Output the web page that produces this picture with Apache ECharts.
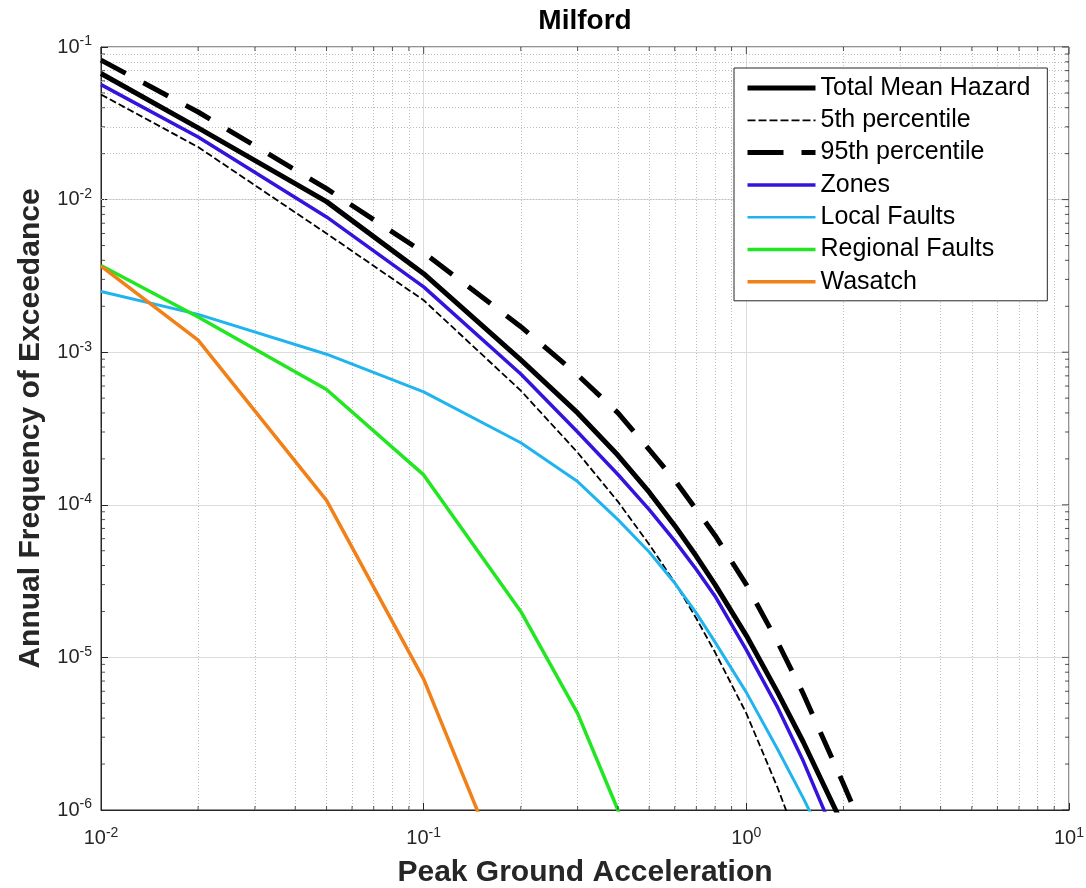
<!DOCTYPE html>
<html>
<head>
<meta charset="utf-8">
<title>Milford</title>
<script src="https://cdn.jsdelivr.net/npm/echarts@6/dist/echarts.min.js"></script>
<style>
    html, body { margin: 0; padding: 0; background: #fff; }
    #chart { width: 1086px; height: 888px; }
</style>
</head>
<body>
<div id="chart"></div>
<script>
// peak ground acceleration levels (g)
var pga = [0.01, 0.02, 0.05, 0.1, 0.2, 0.3, 0.4, 0.5, 0.6, 0.7, 0.8, 1.0, 1.25, 1.5, 2.0, 3.0];

// annual frequency of exceedance
var totalMean = [6.7e-2, 2.95e-2, 9.7e-3, 3.27e-3, 8.9e-4, 4.0e-4, 2.11e-4, 1.21e-4, 7.3e-5, 4.6e-5, 3.0e-5, 1.39e-5, 5.9e-6, 2.8e-6, 7.8e-7, null];
var pct5 = [4.88e-2, 2.21e-2, 6.0e-3, 2.19e-3, 5.6e-4, 2.2e-4, 1.05e-4, 5.5e-5, 3.1e-5, 1.8e-5, 1.08e-5, 4.3e-6, 1.4e-6, 5e-7, null, null];
var pct95 = [8.2e-2, 3.75e-2, 1.18e-2, 4.5e-3, 1.47e-3, 7.1e-4, 4.0e-4, 2.3e-4, 1.45e-4, 9.3e-5, 6.3e-5, 3.0e-5, 1.26e-5, 5.8e-6, 1.48e-6, 2e-7];
var zones = [5.67e-2, 2.57e-2, 7.7e-3, 2.68e-3, 7.2e-4, 3.0e-4, 1.58e-4, 9.3e-5, 5.8e-5, 3.77e-5, 2.52e-5, 1.12e-5, 4.7e-6, 2.1e-6, 5e-7, null];
var localFaults = [2.5e-3, 1.77e-3, 9.7e-4, 5.5e-4, 2.55e-4, 1.42e-4, 8.0e-5, 4.9e-5, 3.07e-5, 1.95e-5, 1.26e-5, 5.9e-6, 2.5e-6, 1.2e-6, 3.5e-7, null];
var regionalFaults = [3.7e-3, 1.7e-3, 5.7e-4, 1.57e-4, 2.0e-5, 4.3e-6, 1.0e-6, 2e-7, null, null, null, null, null, null, null, null];
var wasatch = [3.66e-3, 1.2e-3, 1.07e-4, 7.2e-6, 2e-7, null, null, null, null, null, null, null, null, null, null, null];

// axis ticks
var xMajor = [0.01, 0.1, 1, 10];
var yMajor = [1e-6, 1e-5, 1e-4, 1e-3, 1e-2, 1e-1];

var xMin = 0.01, xMax = 10, yMin = 1e-6, yMax = 0.1;
var axisColor = '#262626';

function minorsOf(majors) {
    var out = [];
    for (var i = 0; i < majors.length - 1; i++) {
        for (var k = 2; k <= 9; k++) out.push(+(k * majors[i]).toPrecision(3));
    }
    return out;
}
var xMinor = minorsOf(xMajor);
var yMinor = minorsOf(yMajor);

function pairs(ys) {
    return pga.map(function (x, i) { return [x, ys[i]]; });
}

function expLabel(v) {
    return '10{sup|' + Math.round(Math.log10(v)) + '}';
}

var labelRich = {
    sup: { fontSize: 14, padding: [0, 0, 11, 0], color: axisColor, fontFamily: 'Liberation Sans' }
};

function curve(name, ys, color, width, type) {
    return {
        name: name,
        type: 'line',
        data: pairs(ys),
        symbol: 'none',
        showSymbol: false,
        clip: true,
        z: 3,
        lineStyle: { color: color, width: width, type: type || 'solid', cap: 'butt', join: 'round' },
        itemStyle: { color: color },
        emphasis: { disabled: true }
    };
}

// little inside ticks drawn as thin rects sitting on the frame
function ticks(data, size, offset) {
    return {
        type: 'scatter',
        data: data,
        symbol: 'rect',
        symbolSize: size,
        symbolOffset: offset,
        itemStyle: { color: axisColor },
        clip: false,
        silent: true,
        z: 4
    };
}

var chartDom = document.getElementById('chart');
var myChart = echarts.init(chartDom);

var minorGrid = xMinor.map(function (v) { return { xAxis: v }; })
    .concat(yMinor.map(function (v) { return { yAxis: v }; }));

var option = {
    animation: false,
    backgroundColor: '#fff',
    textStyle: { fontFamily: 'Liberation Sans, Arial, sans-serif' },
    title: {
        text: 'Milford',
        left: 585,
        textAlign: 'center',
        top: 7,
        padding: 0,
        textStyle: { fontSize: 28, fontWeight: 'bold', color: '#000' }
    },
    grid: {
        left: 101,
        right: 17,
        top: 47,
        bottom: 78,
        show: true,
        borderColor: axisColor,
        borderWidth: 1,
        containLabel: false,
        outerBoundsMode: 'none'
    },
    legend: {
        orient: 'vertical',
        left: 734,
        top: 68,
        padding: [7, 17, 6, 11],
        itemWidth: 68,
        itemHeight: 14,
        itemGap: 6.3,
        backgroundColor: '#fff',
        borderColor: axisColor,
        borderWidth: 1,
        borderRadius: 0,
        selectedMode: false,
        itemStyle: { opacity: 0 },
        textStyle: { fontSize: 25, lineHeight: 26, color: '#000', padding: [0, 0, 0, 0] },
        data: [
            { name: 'Total Mean Hazard', lineStyle: { width: 5, type: 'solid' } },
            { name: '5th percentile', lineStyle: { width: 1.8, type: [8, 3] } },
            { name: '95th percentile', lineStyle: { width: 5, type: [36, 18] } },
            { name: 'Zones', lineStyle: { width: 3.5, type: 'solid' } },
            { name: 'Local Faults', lineStyle: { width: 2.5, type: 'solid' } },
            { name: 'Regional Faults', lineStyle: { width: 3.5, type: 'solid' } },
            { name: 'Wasatch', lineStyle: { width: 3.5, type: 'solid' } }
        ]
    },
    xAxis: {
        type: 'log',
        logBase: 10,
        min: xMin,
        max: xMax,
        name: 'Peak Ground Acceleration',
        nameLocation: 'middle',
        nameGap: 48,
        nameTextStyle: { fontSize: 30, fontWeight: 'bold', color: axisColor },
        axisLine: { show: true, lineStyle: { color: axisColor, width: 1 } },
        axisTick: { show: true, inside: true, length: 7, lineStyle: { color: axisColor } },
        axisLabel: {
            fontSize: 20,
            color: axisColor,
            margin: 16,
            formatter: expLabel,
            rich: labelRich
        },
        splitLine: { show: true, lineStyle: { color: '#dcdcdc', width: 1 } }
    },
    yAxis: {
        type: 'log',
        logBase: 10,
        min: yMin,
        max: yMax,
        splitNumber: 5,
        name: 'Annual Frequency of Exceedance',
        nameLocation: 'middle',
        nameGap: 55,
        nameTextStyle: { fontSize: 30, fontWeight: 'bold', color: axisColor },
        axisLine: { show: true, lineStyle: { color: axisColor, width: 1 } },
        axisTick: { show: true, inside: true, length: 7, lineStyle: { color: axisColor } },
        axisLabel: {
            fontSize: 20,
            color: axisColor,
            margin: 9,
            formatter: expLabel,
            rich: labelRich
        },
        splitLine: { show: true, lineStyle: { color: '#dcdcdc', width: 1 } }
    },
    series: [
        curve('Total Mean Hazard', totalMean, '#000000', 5),
        curve('5th percentile', pct5, '#000000', 1.8, [7, 3]),
        curve('95th percentile', pct95, '#000000', 5, [28, 20]),
        curve('Zones', zones, '#3414dc', 3.5),
        curve('Local Faults', localFaults, '#1fb4ee', 3),
        curve('Regional Faults', regionalFaults, '#22e622', 3.5),
        curve('Wasatch', wasatch, '#f28018', 3.5),
        {
            type: 'line',
            data: [],
            silent: true,
            markLine: {
                silent: true,
                symbol: 'none',
                z: 1,
                label: { show: false },
                lineStyle: { color: '#bdbdbd', width: 1, type: [1, 2] },
                emphasis: { disabled: true },
                data: minorGrid
            }
        },
        ticks(xMinor.map(function (v) { return [v, yMin]; }), [1, 4], [0, -2]),
        ticks(xMinor.map(function (v) { return [v, yMax]; }), [1, 4], [0, 2]),
        ticks(xMajor.map(function (v) { return [v, yMax]; }), [1, 7], [0, 3.5]),
        ticks(yMinor.map(function (v) { return [xMin, v]; }), [4, 1], [2, 0]),
        ticks(yMinor.map(function (v) { return [xMax, v]; }), [4, 1], [-2, 0]),
        ticks(yMajor.map(function (v) { return [xMax, v]; }), [7, 1], [-3.5, 0])
    ]
};

myChart.setOption(option);
</script>
</body>
</html>
